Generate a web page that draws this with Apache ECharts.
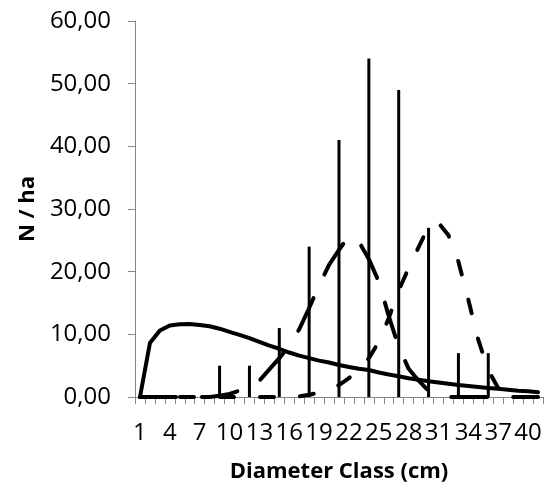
<!DOCTYPE html>
<html>
<head>
<meta charset="utf-8">
<title>Diameter Class</title>
<script src="https://cdn.jsdelivr.net/npm/echarts@6/dist/echarts.min.js"></script>
<style>
  html, body { margin: 0; padding: 0; background: #fff; }
  #chart { width: 548px; height: 491px; }
</style>
</head>
<body>
<div id="chart"></div>
<script>
  // diameter classes 1..41
  var classes = [1, 2, 3, 4, 5, 6, 7, 8, 9, 10, 11, 12, 13, 14, 15, 16, 17, 18, 19, 20,
    21, 22, 23, 24, 25, 26, 27, 28, 29, 30, 31, 32, 33, 34, 35, 36, 37, 38, 39, 40, 41];

  // observed N/ha (thin bars), only every 3rd class has a value
  var observed = [null, null, null, null, null, null, null, null, 5, null, null, 5, null, null, 11, null, null, 24, null, null,
    41, null, null, 54, null, null, 49, null, null, 27, null, null, 7, null, null, 7, null, null, null, null, null];

  // solid curve
  var curveSolid = [0, 8.6, 10.6, 11.4, 11.6, 11.65, 11.5, 11.3, 10.9, 10.4, 9.9, 9.4, 8.8, 8.2, 7.7, 7.1, 6.6, 6.2, 5.8, 5.5,
    5.1, 4.8, 4.5, 4.3, 3.9, 3.6, 3.3, 3.0, 2.75, 2.5, 2.3, 2.1, 1.9, 1.75, 1.6, 1.45, 1.3, 1.15, 1.0, 0.9, 0.75];

  // long-dash curve (peak near class 22)
  var curveLongDash = [0, 0, 0, 0, 0, 0, 0, 0, 0.2, 0.5, 1.0, 1.7, 2.6, 4.4, 6.2, 8.2, 10.8, 14.2, 17.8, 21.1,
    23.5, 25.7, 24.8, 22.0, 18.4, 12.9, 8.0, 4.5, 2.6, 1.0, 0.2, 0, 0, 0, 0, 0, 0, 0, 0, 0, 0];

  // dash curve (peak near class 31)
  var curveDash = [0, 0, 0, 0, 0, 0, 0, 0, 0, 0, 0, 0, 0, 0, 0, 0, 0.1, 0.35, 0.7, 1.2,
    1.9, 3.0, 4.5, 6.2, 8.8, 12.6, 17.0, 20.6, 23.9, 27.2, 27.8, 25.8, 21.6, 15.5, 9.1, 4.3, 1.4, 0.3, 0, 0, 0];

  var yTicks = { min: 0, max: 60, step: 10 };

  var font = '"Open Sans", "DejaVu Sans", sans-serif';
  var axisGrey = '#868686';

  var myChart = echarts.init(document.getElementById('chart'));

  var option = {
    animation: false,
    backgroundColor: '#fff',
    grid: {
      left: 135,
      right: 5,
      top: 21,
      bottom: 94
    },
    xAxis: {
      type: 'category',
      data: classes,
      boundaryGap: true,
      name: 'Diameter Class (cm)',
      nameLocation: 'middle',
      nameGap: 64,
      nameTextStyle: { fontFamily: font, fontSize: 22, fontWeight: 'bold', color: '#000' },
      axisLine: { lineStyle: { color: axisGrey, width: 1 } },
      axisTick: { show: true, interval: 0, length: 7, lineStyle: { color: axisGrey } },
      axisLabel: { interval: 2, margin: 24, fontFamily: font, fontSize: 24, color: '#000' },
      splitLine: { show: false }
    },
    yAxis: {
      type: 'value',
      min: yTicks.min,
      max: yTicks.max,
      interval: yTicks.step,
      name: 'N / ha',
      nameLocation: 'middle',
      nameRotate: 90,
      nameGap: 96,
      nameTextStyle: { fontFamily: font, fontSize: 22, fontWeight: 'bold', color: '#000' },
      axisLine: { show: true, lineStyle: { color: axisGrey, width: 1 } },
      axisTick: { show: true, length: 7, lineStyle: { color: axisGrey } },
      axisLabel: {
        margin: 24,
        fontFamily: font,
        fontSize: 24,
        color: '#000',
        formatter: function (v) { return v.toFixed(2).replace('.', ','); }
      },
      splitLine: { show: false }
    },
    series: [
      {
        name: 'observed',
        type: 'bar',
        data: observed,
        barWidth: 3,
        itemStyle: { color: '#000' }
      },
      {
        name: 'solid',
        type: 'line',
        data: curveSolid,
        showSymbol: false,
        symbol: 'none',
        lineStyle: { color: '#000', width: 4, cap: 'round', join: 'round' }
      },
      {
        name: 'longdash',
        type: 'line',
        data: curveLongDash,
        showSymbol: false,
        symbol: 'none',
        lineStyle: { color: '#000', width: 4, type: [36, 26], cap: 'round', join: 'round' }
      },
      {
        name: 'dash',
        type: 'line',
        data: curveDash,
        showSymbol: false,
        symbol: 'none',
        lineStyle: { color: '#000', width: 4, type: [14, 26], cap: 'round', join: 'round' }
      }
    ]
  };

  myChart.setOption(option);
</script>
</body>
</html>
